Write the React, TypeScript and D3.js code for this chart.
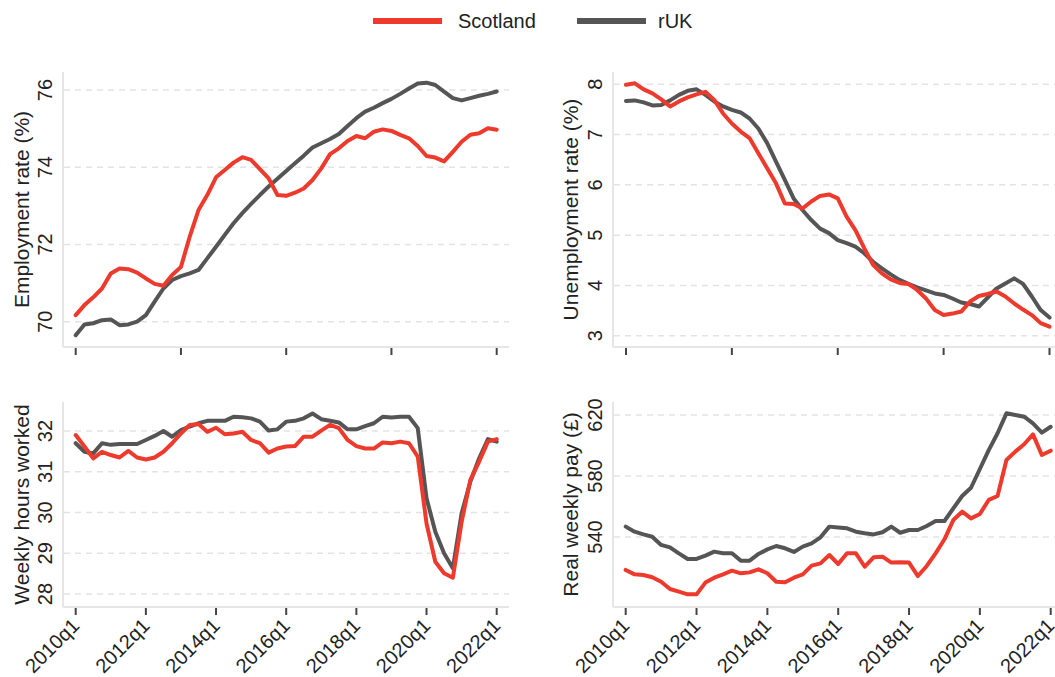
import React from "react";
import * as d3 from "d3";

const quarters: string[] = d3.range(49).map((i) => `${2010 + Math.floor(i / 4)}q${(i % 4) + 1}`);

const empScot = [70.17,70.43,70.63,70.86,71.25,71.38,71.36,71.27,71.12,70.98,70.93,71.21,71.42,72.2,72.89,73.28,73.74,73.93,74.12,74.26,74.19,73.95,73.71,73.28,73.26,73.34,73.45,73.67,73.97,74.34,74.49,74.68,74.81,74.75,74.92,74.98,74.94,74.84,74.75,74.55,74.29,74.25,74.15,74.4,74.66,74.84,74.88,75.01,74.97];
const empRuk = [69.65,69.93,69.96,70.04,70.06,69.91,69.93,70.0,70.17,70.52,70.86,71.08,71.18,71.25,71.34,71.64,71.94,72.25,72.55,72.81,73.05,73.28,73.5,73.7,73.9,74.1,74.3,74.51,74.62,74.73,74.86,75.07,75.27,75.44,75.54,75.66,75.77,75.9,76.04,76.17,76.19,76.13,75.96,75.79,75.73,75.79,75.85,75.9,75.96];

const unempScot = [7.99,8.02,7.9,7.82,7.7,7.56,7.66,7.74,7.8,7.85,7.69,7.42,7.22,7.06,6.93,6.63,6.33,6.03,5.63,5.62,5.53,5.67,5.78,5.81,5.73,5.37,5.1,4.74,4.41,4.24,4.12,4.05,4.03,3.91,3.74,3.51,3.41,3.44,3.48,3.68,3.79,3.83,3.88,3.78,3.64,3.52,3.41,3.25,3.18];
const unempRuk = [7.67,7.68,7.64,7.58,7.59,7.68,7.79,7.87,7.9,7.79,7.66,7.56,7.49,7.44,7.32,7.12,6.83,6.46,6.1,5.73,5.5,5.3,5.13,5.04,4.9,4.84,4.77,4.64,4.47,4.34,4.22,4.11,4.03,3.96,3.9,3.84,3.81,3.74,3.66,3.63,3.58,3.76,3.94,4.04,4.14,4.03,3.78,3.51,3.36];

const hoursScot = [31.9,31.62,31.33,31.49,31.41,31.35,31.51,31.35,31.3,31.35,31.49,31.7,31.94,32.15,32.17,31.98,32.08,31.92,31.94,31.98,31.78,31.7,31.47,31.57,31.62,31.63,31.86,31.86,32.01,32.15,32.07,31.78,31.63,31.57,31.57,31.72,31.7,31.74,31.7,31.37,29.73,28.79,28.51,28.4,29.77,30.8,31.25,31.74,31.8];
const hoursRuk = [31.7,31.49,31.45,31.7,31.66,31.68,31.68,31.68,31.78,31.88,32.0,31.86,32.02,32.11,32.19,32.25,32.25,32.25,32.35,32.34,32.31,32.23,32.01,32.04,32.23,32.25,32.31,32.43,32.29,32.25,32.21,32.04,32.04,32.12,32.19,32.35,32.33,32.35,32.35,32.07,30.35,29.53,29.0,28.63,29.98,30.76,31.33,31.8,31.74];

const payScot = [518.4,515.5,515.1,513.6,510.7,505.9,504.2,502.4,502.4,510.1,513.3,515.5,517.9,516.2,516.8,518.8,516.2,510.7,510.3,513.3,515.5,521.2,522.7,528.2,522.3,529.3,529.3,520.5,526.7,527.1,523.2,523.4,523.2,514.4,521.0,529.3,538.5,551.1,556.6,552.2,555.1,564.3,566.9,590.5,596.0,600.8,607.3,593.8,596.6];
const payRuk = [546.8,543.5,541.7,540.2,534.8,533.2,529.3,525.6,525.6,527.8,530.4,529.3,529.3,524.5,524.5,528.9,531.9,534.1,532.6,530.2,533.7,535.8,539.8,546.8,546.3,545.7,543.5,542.4,541.7,543.1,546.8,542.8,544.6,544.6,547.2,550.5,550.5,558.8,566.9,572.3,584.6,597.0,608.0,621.1,620.0,618.9,614.5,608.4,612.3];

const empTicks = [70, 72, 74, 76];
const unempTicks = [3, 4, 5, 6, 7, 8];
const hoursTicks = [28, 29, 30, 31, 32];
const payTicks = [540, 580, 620];
const topXTicks = [0, 12, 24, 36, 48];
const bottomXTicks = [0, 8, 16, 24, 32, 40, 48];

const RED = "#ee3a2c";
const GRAY = "#555555";
const FONT = "'Liberation Sans', Arial, Helvetica, sans-serif";

type PanelDef = {
  title: string;
  scot: number[];
  ruk: number[];
  yTicks: number[];
  yDomain: [number, number];
  yRange: [number, number];
  xRange: [number, number];
  axisX: number;
  rightX: number;
  top: number;
  bottom: number;
  titleX: number;
  xTicks: number[];
  labels: boolean;
};

const panels: PanelDef[] = [
  { title: "Employment rate (%)", scot: empScot, ruk: empRuk, yTicks: empTicks, yDomain: [70, 76], yRange: [321.7, 90], xRange: [75.7, 496.7], axisX: 63, rightX: 509, top: 72, bottom: 347, titleX: 29, xTicks: topXTicks, labels: false },
  { title: "Unemployment rate (%)", scot: unempScot, ruk: unempRuk, yTicks: unempTicks, yDomain: [3, 8], yRange: [335.7, 84.3], xRange: [626, 1049.5], axisX: 613, rightX: 1055, top: 72, bottom: 347, titleX: 578, xTicks: topXTicks, labels: false },
  { title: "Weekly hours worked", scot: hoursScot, ruk: hoursRuk, yTicks: hoursTicks, yDomain: [28, 32], yRange: [594, 431], xRange: [75.7, 496.7], axisX: 63, rightX: 509, top: 402, bottom: 607, titleX: 29, xTicks: bottomXTicks, labels: true },
  { title: "Real weekly pay (£)", scot: payScot, ruk: payRuk, yTicks: payTicks, yDomain: [540, 620], yRange: [537, 415], xRange: [625.7, 1050.7], axisX: 613, rightX: 1055, top: 402, bottom: 607, titleX: 578, xTicks: bottomXTicks, labels: true },
];

function Panel({ p }: { p: PanelDef }) {
  const x = d3.scaleLinear().domain([0, 48]).range(p.xRange);
  const y = d3.scaleLinear().domain(p.yDomain).range(p.yRange);
  const line = d3
    .line<number>()
    .x((_, i) => x(i))
    .y((d) => y(d));
  const midY = (p.top + p.bottom) / 2;
  return (
    <g>
      {p.yTicks.map((t) => (
        <line key={"g" + t} x1={p.axisX + 1} x2={p.rightX} y1={y(t)} y2={y(t)} stroke="#e3e3e3" strokeWidth={1.5} strokeDasharray="6 5" />
      ))}
      <line x1={p.axisX} x2={p.axisX} y1={p.top} y2={p.bottom} stroke="#e6e6e6" strokeWidth={2} />
      <line x1={p.axisX} x2={p.rightX} y1={p.bottom} y2={p.bottom} stroke="#e6e6e6" strokeWidth={2} />
      {p.yTicks.map((t) => (
        <text key={"yl" + t} transform={`translate(${p.axisX - 11},${y(t)}) rotate(-90)`} textAnchor="middle" fontSize={20} fontFamily={FONT} fill="#222">
          {t}
        </text>
      ))}
      <text transform={`translate(${p.titleX},${midY}) rotate(-90)`} textAnchor="middle" fontSize={21} fontFamily={FONT} fill="#222">
        {p.title}
      </text>
      {p.xTicks.map((t) => (
        <line key={"xt" + t} x1={x(t)} x2={x(t)} y1={p.bottom + 1} y2={p.bottom + 8} stroke="#444" strokeWidth={2} />
      ))}
      {p.labels &&
        p.xTicks.map((t) => (
          <text key={"xl" + t} transform={`translate(${x(t) + 5},${p.bottom + 20}) rotate(-45)`} textAnchor="end" fontSize={20} fontFamily={FONT} fill="#222">
            {quarters[t]}
          </text>
        ))}
      <path d={line(p.ruk) || ""} fill="none" stroke={GRAY} strokeWidth={4} strokeLinejoin="round" strokeLinecap="round" />
      <path d={line(p.scot) || ""} fill="none" stroke={RED} strokeWidth={4} strokeLinejoin="round" strokeLinecap="round" />
    </g>
  );
}

export default function App() {
  return (
    <svg width={1055} height={677} style={{ position: "absolute", left: 0, top: 0, background: "#fff" }}>
      <rect x={0} y={0} width={1055} height={677} fill="#fff" />
      <line x1={373} x2={442} y1={21} y2={21} stroke={RED} strokeWidth={6} />
      <text x={458} y={28} fontSize={20} fontFamily={FONT} fill="#222">Scotland</text>
      <line x1={577} x2={646} y1={21} y2={21} stroke={GRAY} strokeWidth={6} />
      <text x={658} y={28} fontSize={20} fontFamily={FONT} fill="#222">rUK</text>
      {panels.map((p) => (
        <Panel key={p.title} p={p} />
      ))}
    </svg>
  );
}
